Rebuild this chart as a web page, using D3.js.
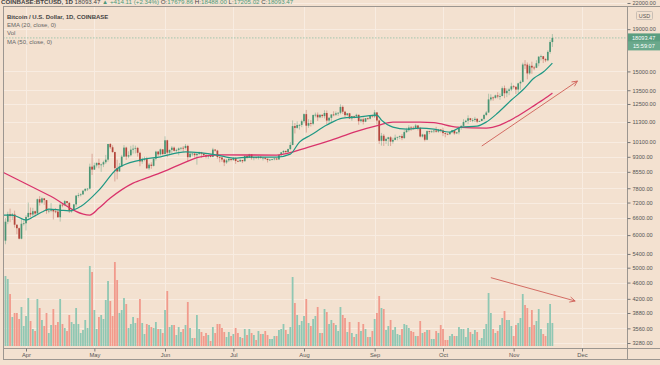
<!DOCTYPE html>
<html>
<head>
<meta charset="utf-8">
<script src="https://cdn.jsdelivr.net/npm/d3@7"></script>
<style>
  body { margin: 0; background: #f3e1d0; }
  svg { display: block; font-family: "Liberation Sans", Arial, sans-serif; }
</style>
</head>
<body>
<div id="chart"></div>
<script>
// chart size
var width = 660,
    height = 365;

// daily candles from 2020-03-22 to 2020-11-18 (one value per day)
var firstDay = "2020-03-22";

var opens = [
  6186,5816,6467,6744,6676,6737,6359,6236,5881,6394,
  6410,6642,6794,6734,6857,6772,7335,7201,7370,7298,6866,6881,6910,6852,6843,6630,7115,7101,7257,7185,6880,6880,7125,7485,7510,7538,7694,7775,7785,8801,
  8658,8864,8989,8897,8912,9023,9153,9990,9811,9550,8730,8567,8810,9310,9792,9315,9381,9680,9733,9775,9512,9059,9171,9179,8720,8900,8842,9204,9575,9428,9697,
  9448,10202,9518,9666,9789,9621,9666,9746,9782,9772,9885,9280,9465,9474,9386,9454,9525,9465,9386,9310,9358,9294,9686,9629,9288,9262,9162,9012,9117,9190,
  9138,9232,9087,9060,9136,9073,9345,9252,9430,9233,9288,9236,9302,9240,9255,9197,9134,9157,9176,9213,9164,9393,9537,9610,9551,9711,9938,11044,10937,11108,11118,
  11351,11810,11070,11230,11188,11751,11770,11600,11763,11681,11885,11393,11568,11787,11772,11865,11900,12297,11970,11745,11863,11526,11680,11655,11765,11353,11472,11320,11542,11510,11712,
  11657,11923,11397,10171,10464,10167,10280,10372,10126,10225,10350,10398,10445,10330,10680,10792,10957,10945,10933,11083,10923,10418,10535,10232,10739,10690,10725,10775,10707,10840,
  10779,10620,10579,10553,10674,10794,10604,10669,10926,11058,11297,11380,11539,11428,11430,11505,11325,11365,11500,11755,11917,12826,12965,12935,13115,13035,13067,13655,13275,13460,13560,
  13800,13755,13555,14030,14150,15590,15580,14835,15480,15330,15310,15700,16290,16330,16070,15960,16730,17679.86
];

var highs = [
  6420,6600,6840,6960,6790,6880,6370,6260,6600,6520,
  6710,7200,7000,6990,6880,7360,7460,7410,7380,7300,6950,7180,6920,6980,6940,7200,7150,7300,7260,7220,6950,7150,7500,7600,7580,7700,7790,7800,8950,9460,
  9000,9010,9200,8950,9100,9400,10000,10050,9920,9570,9150,8980,9400,9930,9840,9590,9890,9950,9900,9830,9570,9270,9310,9300,8980,9020,9220,9620,9610,9740,9700,
  10430,10230,9690,9880,9850,9730,9800,9800,9880,9990,9950,9560,9490,9480,9520,9580,9560,9480,9440,9400,9420,9780,9690,9670,9330,9290,9200,9190,9230,9200,
  9300,9270,9130,9200,9140,9370,9370,9460,9440,9300,9300,9340,9340,9280,9270,9210,9190,9200,9240,9220,9420,9550,9650,9640,9740,10100,11400,11240,11340,11170,11450,
  11860,12090,11480,11420,11790,11910,11920,11810,11800,12070,12050,11620,11800,12000,11990,11940,12480,12400,12030,11880,11890,11690,11710,11840,11770,11540,11590,11550,11580,11720,11770,
  12090,11930,11460,10630,10570,10350,10400,10440,10350,10530,10400,10480,10560,10800,10940,11100,11050,11040,11180,11090,10990,10580,10560,10780,10760,10790,10800,11000,10870,10850,
  10950,10660,10600,10700,10800,10800,10690,10960,11100,11480,11440,11730,11560,11550,11630,11540,11400,11500,11820,12020,13240,13200,13030,13170,13350,13250,13790,13860,13640,13680,14080,
  13900,13820,14070,14260,15750,15980,15770,15650,15840,15480,15970,16340,16480,16340,16150,16880,17860,18488
];

var lows = [
  5780,5700,6380,6450,6530,6260,6030,5860,5860,6330,
  6160,6580,6620,6670,6660,6770,7080,7150,7110,6760,6780,6820,6550,6780,6620,6470,7010,7060,7070,6790,6800,6860,7030,7400,7450,7510,7650,7680,7750,8400,
  8640,8760,8720,8550,8780,8940,9050,9720,9520,8100,8200,8560,8800,9270,9140,9230,9320,9470,9480,9310,8820,8940,9070,8700,8640,8700,8810,9110,9330,9360,9380,
  9420,9280,9390,9460,9580,9530,9380,9640,9570,9690,9080,9250,9330,9260,8900,9390,9250,9280,9220,9200,9270,9280,9570,9200,9020,9040,8830,8940,9030,9070,
  9090,8940,9030,9050,8980,9060,9200,9240,9150,9120,9190,9160,9200,9110,9160,9010,9090,9120,9120,9130,9150,9290,9460,9460,9540,9650,9920,10600,10880,10830,10980,
  11220,10650,10940,11020,11100,11600,11370,11540,11560,11530,11140,11170,11280,11670,11690,11690,11800,11820,11580,11680,11500,11380,11520,11590,11130,11260,11150,11290,11430,11470,11580,
  11560,11150,10000,9900,9880,10000,9880,9880,10010,10200,10200,10270,10210,10280,10630,10700,10750,10820,10900,10780,10370,10360,10140,10200,10560,10640,10620,10650,10640,10660,
  10440,10370,10500,10520,10610,10520,10560,10540,10820,11030,11250,11180,11300,11280,11290,11230,11300,11350,11410,11680,11900,12700,12730,12880,12900,12800,13060,12910,12990,13130,13430,
  13620,13220,13300,13530,14100,15200,14350,14720,14800,15100,15280,15440,15950,15720,15800,15870,16560,17205.02
];

var closes = [
  5816,6467,6744,6676,6737,6359,6236,5881,6394,6410,
  6642,6794,6734,6857,6772,7335,7201,7370,7298,6866,6881,6910,6852,6843,6630,7115,7101,7257,7185,6880,6880,7125,7485,7510,7538,7694,7775,7785,8801,8658,
  8864,8989,8897,8912,9023,9153,9990,9811,9550,8730,8567,8810,9310,9792,9315,9381,9680,9733,9775,9512,9059,9171,9179,8720,8900,8842,9204,9575,9428,9697,9448,
  10202,9518,9666,9789,9621,9666,9746,9782,9772,9885,9280,9465,9474,9386,9454,9525,9465,9386,9310,9358,9294,9686,9629,9288,9262,9162,9012,9117,9190,9138,
  9232,9087,9060,9136,9073,9345,9252,9430,9233,9288,9236,9302,9240,9255,9197,9134,9157,9176,9213,9164,9393,9537,9610,9551,9711,9938,11044,10937,11108,11118,11351,
  11810,11070,11230,11188,11751,11770,11600,11763,11681,11885,11393,11568,11787,11772,11865,11900,12297,11970,11745,11863,11526,11680,11655,11765,11353,11472,11320,11542,11510,11712,11657,
  11923,11397,10171,10464,10167,10280,10372,10126,10225,10350,10398,10445,10330,10680,10792,10957,10945,10933,11083,10923,10418,10535,10232,10739,10690,10725,10775,10707,10840,10779,
  10620,10579,10553,10674,10794,10604,10669,10926,11058,11297,11380,11539,11428,11430,11505,11325,11365,11500,11755,11917,12826,12965,12935,13115,13035,13067,13655,13275,13460,13560,13800,
  13755,13555,14030,14150,15590,15580,14835,15480,15330,15310,15700,16290,16330,16070,15960,16730,17680,18093.47
];

// volume (thousand BTC)
var volumes = [
  28.2,42.0,40.2,31.2,17.4,19.8,19.8,16.2,23.4,12.0,
  18.0,28.8,15.0,10.2,9.0,28.2,22.8,15.6,12.0,19.8,7.8,12.6,22.2,12.6,14.4,28.2,13.2,10.8,9.0,18.6,14.4,13.2,22.8,13.2,7.8,9.6,15.6,10.8,48.0,44.4,
  21.6,10.2,17.4,18.6,16.2,27.6,39.0,27.0,18.0,50.4,39.6,19.8,21.6,28.8,25.2,10.8,13.2,17.4,13.8,16.8,28.2,13.8,7.2,13.2,12.6,11.4,10.8,14.4,10.2,10.2,7.8,
  21.6,33.0,11.4,12.6,12.6,6.6,11.4,8.4,10.2,12.6,26.4,10.8,4.8,4.8,18.6,10.2,8.4,6.0,7.8,6.6,3.0,11.4,7.8,13.2,13.2,10.8,8.4,5.4,8.4,6.0,
  7.2,10.8,7.8,5.4,4.8,10.2,6.6,10.2,7.8,6.6,3.6,9.0,7.2,7.2,9.0,6.6,4.2,4.2,6.0,6.0,9.6,10.2,13.2,9.6,7.2,11.4,41.4,25.8,18.6,12.6,15.0,
  18.0,28.2,13.8,12.0,16.2,18.0,23.4,7.8,7.8,22.2,20.4,13.2,15.6,13.8,12.6,9.0,23.4,18.6,16.8,8.4,14.4,7.8,5.4,7.2,14.4,9.0,13.2,10.2,5.4,5.4,9.0,
  16.2,19.8,30.0,22.8,22.2,9.6,12.0,15.6,9.6,11.4,7.2,6.6,10.2,13.2,12.6,10.8,9.0,8.4,6.0,6.0,15.0,7.8,8.4,9.6,9.6,4.2,4.2,9.0,7.8,12.6,
  10.2,3.6,3.6,6.0,7.2,6.0,6.0,11.4,10.2,10.2,5.4,10.8,8.4,7.2,9.6,8.4,3.6,4.8,10.2,13.2,31.8,19.8,10.2,7.8,9.0,12.6,16.8,21.0,15.6,15.6,12.0,
  6.0,12.6,13.8,16.8,31.2,24.6,22.8,11.4,21.6,12.6,15.0,22.2,10.2,7.2,6.0,13.8,25.2,13.8
];

// EMA (20) and MA (50)
var emaDates = ["2020-03-22","2020-03-26","2020-04-01","2020-04-04","2020-04-08","2020-04-11","2020-04-16","2020-04-20","2020-04-25","2020-05-03","2020-05-11","2020-05-21","2020-05-30","2020-06-10","2020-06-24","2020-07-01","2020-07-08","2020-07-20","2020-07-26","2020-07-30","2020-08-04","2020-08-11","2020-08-18","2020-08-25","2020-09-02","2020-09-04","2020-09-09","2020-09-15","2020-09-21","2020-09-27","2020-10-04","2020-10-09","2020-10-16","2020-10-20","2020-10-25","2020-10-31","2020-11-05","2020-11-10","2020-11-14","2020-11-18"];
var emaValues = [6712,6712,6528,6637,6826,6941,6902,6870,7045,7720,8700,9132,9300,9560,9391,9235,9287,9287,9443,10100,10504,11109,11553,11618,11748,11424,10985,10862,10923,10862,10682,10985,11046,11297,11881,12778,13514,14452,14946,15719];

var maDates = ["2020-03-22","2020-04-11","2020-04-29","2020-05-03","2020-05-08","2020-05-18","2020-05-25","2020-06-02","2020-06-09","2020-06-16","2020-06-25","2020-07-20","2020-08-03","2020-08-13","2020-08-23","2020-09-03","2020-09-09","2020-09-21","2020-09-27","2020-10-07","2020-10-20","2020-10-26","2020-11-02","2020-11-09","2020-11-15","2020-11-18"];
var maValues = [8524,7500,6712,6980,7383,8029,8302,8635,8979,9287,9400,9391,9821,10214,10682,11109,11297,11297,11260,10985,10923,11109,11618,12287,12922,13289];

// axis labels
var priceTicks = [22000,19000,15000,13500,12500,11300,10100,9300,8550,7800,7200,6600,6000,5400,5000,4600,4200,3880,3560,3280];
var monthTicks = ["2020-04-01","2020-05-01","2020-06-01","2020-07-01","2020-08-01","2020-09-01","2020-10-01","2020-11-01","2020-12-01"];

var lastPrice = 18093.47;

// hand drawn arrows (date, value)
var priceArrow = [["2020-10-18", 9877], ["2020-11-29", 14210]];
var volArrow = [["2020-10-22", 41], ["2020-11-28", 27]];

var parseDay = d3.utcParse("%Y-%m-%d");

var green = "#4a9574",
    red = "#b3463c",
    volGreen = "#8fc7b3",
    volRed = "#f19a8c";

var candles = closes.map(function(c, i) {
  var dt = parseDay(firstDay);
  dt.setUTCDate(dt.getUTCDate() + i);
  return {date: dt, o: opens[i], h: highs[i], l: lows[i], c: c, v: volumes[i]};
});

// layout
var plot = {left: 3, right: 627, top: 6, bottom: 348};

var x = d3.scaleUtc()
    .domain([parseDay("2020-04-01"), parseDay("2020-12-01")])
    .range([26, 582]);

var y = d3.scaleLog()
    .domain([3280, 21000])
    .range([343, 11.3]);

var yVol = d3.scaleLinear()
    .domain([0, 50.4])
    .range([346, 262]);

var svg = d3.select("#chart").append("svg")
    .attr("width", width)
    .attr("height", height);

svg.append("rect").attr("width", width).attr("height", height).attr("fill", "#f3e1d0");

svg.append("clipPath").attr("id", "clip")
  .append("rect")
    .attr("x", plot.left).attr("y", plot.top)
    .attr("width", plot.right - plot.left).attr("height", plot.bottom - plot.top);

// grid
var grid = svg.append("g").attr("class", "grid");
grid.selectAll("line.h")
    .data(priceTicks).enter().append("line")
    .attr("x1", plot.left).attr("x2", plot.right)
    .attr("y1", function(d) { return Math.round(y(d)) + 0.5; })
    .attr("y2", function(d) { return Math.round(y(d)) + 0.5; })
    .attr("stroke", "#f8ece1").attr("stroke-width", 1);
grid.selectAll("line.v")
    .data(monthTicks.map(parseDay)).enter().append("line")
    .attr("y1", plot.top).attr("y2", plot.bottom)
    .attr("x1", function(d) { return Math.round(x(d)) + 0.5; })
    .attr("x2", function(d) { return Math.round(x(d)) + 0.5; })
    .attr("stroke", "#f8ece1").attr("stroke-width", 1);

var g = svg.append("g").attr("clip-path", "url(#clip)");

// volume bars
g.selectAll("rect.vol")
    .data(candles).enter().append("rect")
    .attr("x", function(d) { return x(d.date) - 0.9; })
    .attr("width", 1.8)
    .attr("y", function(d) { return yVol(d.v); })
    .attr("height", function(d) { return yVol(0) - yVol(d.v); })
    .attr("fill", function(d) { return d.c >= d.o ? volGreen : volRed; });

// last price line
g.append("line")
    .attr("x1", plot.left).attr("x2", plot.right)
    .attr("y1", y(lastPrice)).attr("y2", y(lastPrice))
    .attr("stroke", "#8fbfa6").attr("stroke-width", 0.8)
    .attr("stroke-dasharray", "1.5,1.5");

// candles
var candle = g.selectAll("g.candle")
    .data(candles).enter().append("g");

candle.append("line")
    .attr("x1", function(d) { return x(d.date); })
    .attr("x2", function(d) { return x(d.date); })
    .attr("y1", function(d) { return y(Math.max(d.h, d.o, d.c)); })
    .attr("y2", function(d) { return y(Math.min(d.l, d.o, d.c)); })
    .attr("stroke", function(d) { return d.c >= d.o ? green : red; })
    .attr("stroke-opacity", 0.55)
    .attr("stroke-width", 0.7);

candle.append("rect")
    .attr("x", function(d) { return x(d.date) - 0.85; })
    .attr("width", 1.7)
    .attr("y", function(d) { return y(Math.max(d.o, d.c)); })
    .attr("height", function(d) { return Math.max(0.8, y(Math.min(d.o, d.c)) - y(Math.max(d.o, d.c))); })
    .attr("fill", function(d) { return d.c >= d.o ? green : red; });

// moving averages
var line = d3.line()
    .curve(d3.curveMonotoneX)
    .x(function(d) { return x(d[0]); })
    .y(function(d) { return y(d[1]); });

g.append("path")
    .datum(maDates.map(function(s, i) { return [parseDay(s), maValues[i]]; }))
    .attr("d", line)
    .attr("fill", "none").attr("stroke", "#d9336b").attr("stroke-width", 1.3);

g.append("path")
    .datum(emaDates.map(function(s, i) { return [parseDay(s), emaValues[i]]; }))
    .attr("d", line)
    .attr("fill", "none").attr("stroke", "#1f9884").attr("stroke-width", 1.2);

// arrows
function arrow(pts, yScale) {
  var x0 = x(parseDay(pts[0][0])), y0 = yScale(pts[0][1]),
      x1 = x(parseDay(pts[1][0])), y1 = yScale(pts[1][1]);
  var ang = Math.atan2(y1 - y0, x1 - x0), len = 6, spread = 0.45;
  var a = svg.append("g").attr("stroke", "#cf5f57").attr("stroke-width", 0.9).attr("fill", "none");
  a.append("line").attr("x1", x0).attr("y1", y0).attr("x2", x1).attr("y2", y1);
  a.append("path")
    .attr("d", "M" + (x1 - len * Math.cos(ang - spread)) + "," + (y1 - len * Math.sin(ang - spread)) +
               "L" + x1 + "," + y1 +
               "L" + (x1 - len * Math.cos(ang + spread)) + "," + (y1 - len * Math.sin(ang + spread)));
}
arrow(priceArrow, y);
arrow(volArrow, yVol);

// frame
svg.append("rect")
    .attr("x", plot.left + 0.5).attr("y", plot.top + 0.5)
    .attr("width", width - plot.left).attr("height", 359 - plot.top)
    .attr("fill", "none").attr("stroke", "#9c9690").attr("stroke-width", 1);
svg.append("line")
    .attr("x1", plot.right + 0.5).attr("x2", plot.right + 0.5)
    .attr("y1", plot.top).attr("y2", 359.5)
    .attr("stroke", "#9c9690");
svg.append("line")
    .attr("x1", plot.left).attr("x2", width)
    .attr("y1", plot.bottom + 0.5).attr("y2", plot.bottom + 0.5)
    .attr("stroke", "#9c9690");

// price axis
var yAxis = svg.append("g")
    .attr("transform", "translate(" + (plot.right + 0.5) + ",0)")
    .call(d3.axisRight(y).tickValues(priceTicks).tickFormat(d3.format(".2f")).tickSize(3).tickPadding(2));
yAxis.select(".domain").remove();
yAxis.selectAll("line").attr("stroke", "#777");
yAxis.selectAll("text").attr("fill", "#555").attr("font-size", "5.6px").attr("font-family", "Liberation Sans, Arial, sans-serif");

// time axis
var xAxis = svg.append("g")
    .attr("transform", "translate(0," + (plot.bottom + 0.5) + ")")
    .call(d3.axisBottom(x).tickValues(monthTicks.map(parseDay)).tickFormat(d3.utcFormat("%b")).tickSize(3).tickPadding(1.5));
xAxis.select(".domain").remove();
xAxis.selectAll("line").attr("stroke", "#777");
xAxis.selectAll("text").attr("fill", "#555").attr("font-size", "5.8px").attr("font-family", "Liberation Sans, Arial, sans-serif");

// USD badge
svg.append("rect").attr("x", 636.5).attr("y", 11.5).attr("width", 16).attr("height", 8)
    .attr("fill", "#f3e1d0").attr("stroke", "#c9beb4").attr("rx", 1);
svg.append("text").attr("x", 644.5).attr("y", 17.6).attr("text-anchor", "middle")
    .attr("font-size", "5.4px").attr("fill", "#555").text("USD");

// last price label and countdown
var yl = y(lastPrice);
svg.append("rect").attr("x", plot.right + 1).attr("y", yl - 4.5).attr("width", 32).attr("height", 8.5).attr("fill", "#5a9e80");
svg.append("text").attr("x", plot.right + 5).attr("y", yl + 2).attr("font-size", "5.6px").attr("fill", "#fff").text("18093.47");
svg.append("rect").attr("x", plot.right + 1).attr("y", yl + 4).attr("width", 32).attr("height", 8.5).attr("fill", "#6aa98c");
svg.append("text").attr("x", plot.right + 6).attr("y", yl + 10.4).attr("font-size", "5.6px").attr("fill", "#fff").text("15:59:07");

// header (cut at top edge)
var header = svg.append("text").attr("x", 1).attr("y", 3.6).attr("font-size", "6.2px").attr("fill", "#444");
header.append("tspan").attr("font-weight", "bold").text("COINBASE:BTCUSD, 1D ");
header.append("tspan").text("18093.47 ");
header.append("tspan").attr("fill", "#4f9a79").text("\u25B2 +414.11 (+2.34%) ");
header.append("tspan").text("O:");
header.append("tspan").attr("fill", "#4f9a79").text("17679.86 ");
header.append("tspan").text("H:");
header.append("tspan").attr("fill", "#4f9a79").text("18488.00 ");
header.append("tspan").text("L:");
header.append("tspan").attr("fill", "#4f9a79").text("17205.02 ");
header.append("tspan").text("C:");
header.append("tspan").attr("fill", "#4f9a79").text("18093.47");

// legend
var legend = [
  {t: "Bitcoin / U.S. Dollar, 1D, COINBASE", y: 18.5, b: true},
  {t: "EMA (20, close, 0)", y: 27, b: false},
  {t: "Vol", y: 35, b: false},
  {t: "MA (50, close, 0)", y: 44, b: false}
];
svg.selectAll("text.legend")
    .data(legend).enter().append("text")
    .attr("x", 7).attr("y", function(d) { return d.y; })
    .attr("font-size", "6px")
    .attr("font-weight", function(d) { return d.b ? "bold" : "normal"; })
    .attr("fill", function(d) { return d.b ? "#444" : "#666"; })
    .text(function(d) { return d.t; });
</script>
</body>
</html>
